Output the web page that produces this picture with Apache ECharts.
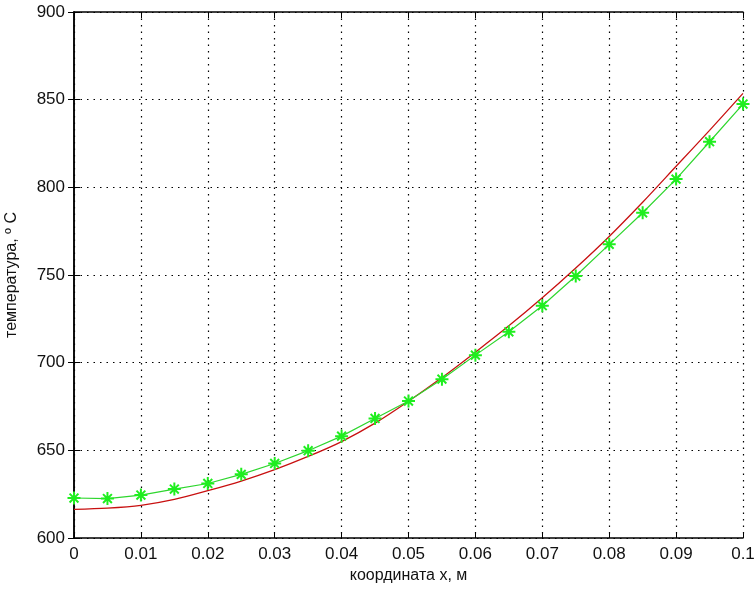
<!DOCTYPE html>
<html>
<head>
<meta charset="utf-8">
<script src="https://cdn.jsdelivr.net/npm/echarts@6/dist/echarts.min.js"></script>
<style>
  html, body { margin: 0; padding: 0; background: #fff; }
  #chart { width: 754px; height: 595px; }
</style>
</head>
<body>
<div id="chart"></div>
<script>
// coordinate, m
const xs = [0, 0.005, 0.01, 0.015, 0.02, 0.025, 0.03, 0.035, 0.04, 0.045, 0.05,
  0.055, 0.06, 0.065, 0.07, 0.075, 0.08, 0.085, 0.09, 0.095, 0.1]
// calculated temperature (red)
const tempCalc = [616.3, 617, 618.6, 622, 627, 632.5, 639, 646.5, 655, 665.5, 678,
  691.5, 706, 721, 737, 754, 772, 791.5, 812, 832.5, 853.6]
// measured / model points (green with stars)
const tempPts = [622.8, 622.5, 624.5, 627.9, 631.1, 636.3, 642.5, 649.8, 658.1, 668.2, 678.1,
  690.6, 704.3, 717.6, 732.5, 749.4, 767.5, 785.5, 804.7, 826, 847.5]

const xTicks = [0, 0.01, 0.02, 0.03, 0.04, 0.05, 0.06, 0.07, 0.08, 0.09, 0.1]
const yMin = 600, yMax = 900, yStep = 50

const FONT = 'Liberation Sans'
const STAR = 'path://M5,0L5,10M0,5L10,5M1.6,1.6L8.4,8.4M1.6,8.4L8.4,1.6'

const chart = echarts.init(document.getElementById('chart'))

const gridLine = { show: true, lineStyle: { color: '#000', type: [1.5, 5], width: 1.2 } }
const axisLine = { show: true, lineStyle: { color: '#000', width: 1.5 } }
const tick = { inside: true, length: 6, lineStyle: { color: '#000' } }

chart.setOption({
  animation: false,
  backgroundColor: '#fff',
  grid: { left: 74, right: 11, top: 12, bottom: 57, containLabel: false, outerBoundsMode: 'none' },
  xAxis: [{
    type: 'value', min: 0, max: 0.1, interval: 0.01,
    name: 'координата x, м', nameLocation: 'middle', nameGap: 28,
    nameTextStyle: { color: '#111', fontFamily: FONT, fontSize: 16 },
    axisLine, axisTick: tick,
    splitLine: gridLine,
    axisLabel: {
      color: '#111', fontFamily: FONT, fontSize: 17, margin: 8,
      formatter: v => xTicks.includes(+v.toFixed(2)) ? String(+v.toFixed(2)) : ''
    }
  }, {
    type: 'value', min: 0, max: 0.1, interval: 0.01, position: 'top',
    axisLine, axisTick: tick,
    axisLabel: { show: false }, splitLine: { show: false }
  }],
  yAxis: [{
    type: 'value', min: yMin, max: yMax, interval: yStep,
    name: 'температура, º C', nameLocation: 'middle', nameGap: 54,
    nameTextStyle: { color: '#111', fontFamily: FONT, fontSize: 16 },
    axisLine, axisTick: tick,
    splitLine: gridLine,
    axisLabel: { color: '#111', fontFamily: FONT, fontSize: 17, margin: 9 }
  }, {
    type: 'value', min: yMin, max: yMax, interval: yStep, position: 'right',
    axisLine, axisTick: tick,
    axisLabel: { show: false }, splitLine: { show: false }
  }],
  series: [{
    name: 'расчёт',
    type: 'line',
    data: xs.map((x, i) => [x, tempCalc[i]]),
    smooth: 0.3,
    showSymbol: false,
    lineStyle: { color: '#c81010', width: 1.3 },
    z: 3
  }, {
    name: 'точки',
    type: 'line',
    data: xs.map((x, i) => [x, tempPts[i]]),
    symbol: STAR,
    symbolSize: 13,
    lineStyle: { color: '#2ed62e', width: 1.2 },
    itemStyle: { color: '#1fee1f', borderColor: '#1fee1f', borderWidth: 2 },
    z: 4
  }]
})
</script>
</body>
</html>
